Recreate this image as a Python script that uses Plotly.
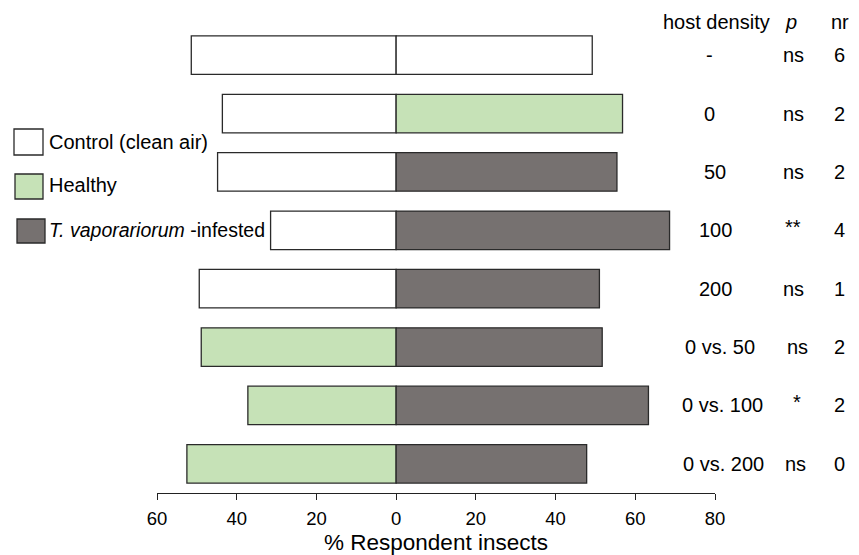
import plotly.graph_objects as go

# ---- data ----
rows = ["-", "0", "50", "100", "200", "0 vs. 50", "0 vs. 100", "0 vs. 200"]
left_values = [51.4, 43.6, 44.8, 31.5, 49.4, 48.9, 37.2, 52.5]
right_values = [49.2, 56.8, 55.4, 68.6, 51.0, 51.7, 63.3, 47.8]
left_group = ["Control", "Control", "Control", "Control", "Control", "Healthy", "Healthy", "Healthy"]
right_group = ["Control", "Healthy", "Infested", "Infested", "Infested", "Infested", "Infested", "Infested"]
p_values = ["ns", "ns", "ns", "**", "ns", "ns", "*", "ns"]
nr_values = ["6", "2", "2", "4", "1", "2", "2", "0"]
tick_vals = [-60, -40, -20, 0, 20, 40, 60, 80]
tick_text = ["60", "40", "20", "0", "20", "40", "60", "80"]

colors = {"Control": "#ffffff", "Healthy": "#c6e2b7", "Infested": "#767170"}
names = {"Control": "Control (clean air)", "Healthy": "Healthy",
         "Infested": "<i>T. vaporariorum</i> -infested"}
EDGE = "#2a2a2a"
FONT = "Liberation Sans, Arial, sans-serif"

# ---- layout geometry (pixels); page body has an 8px default margin ----
OFF = 8
W_FIG, H_FIG = 859 - OFF, 555 - OFF
L, T = 157 - OFF, 26 - OFF
PW, PH = 558, 467
R = W_FIG - L - PW
B = H_FIG - T - PH


def px_x(px):
    return (px - OFF - L) / PW


def px_y(py):
    return (T + PH - (py - OFF)) / PH


ypos = list(range(len(rows)))

fig = go.Figure()
for g in ["Control", "Healthy", "Infested"]:
    xs, ys = [], []
    for i, (v, lg) in enumerate(zip(left_values, left_group)):
        if lg == g:
            xs.append(-v)
            ys.append(ypos[i])
    for i, (v, rg) in enumerate(zip(right_values, right_group)):
        if rg == g:
            xs.append(v)
            ys.append(ypos[i])
    fig.add_trace(go.Bar(
        x=xs, y=ys, orientation="h", name=names[g], width=0.66,
        marker=dict(color=colors[g], line=dict(color=EDGE, width=1.3)),
        showlegend=False,
    ))

fig.update_layout(
    width=W_FIG, height=H_FIG,
    margin=dict(l=L, r=R, t=T, b=B),
    paper_bgcolor="white", plot_bgcolor="white",
    barmode="overlay",
    font=dict(family=FONT, color="black", size=20),
    xaxis=dict(
        range=[-60, 80], tickvals=tick_vals, ticktext=tick_text,
        automargin=False,
        showline=True, linecolor="#222", linewidth=1.3,
        ticks="outside", ticklen=6, tickwidth=1.3, tickcolor="#222",
        ticklabelstandoff=3,
        showgrid=False, zeroline=False,
        tickfont=dict(size=18.5, family=FONT),
        title=dict(text="% Respondent insects", font=dict(size=22.5, family=FONT), standoff=9),
    ),
    yaxis=dict(
        range=[len(rows) - 0.5, -0.5], autorange=False, automargin=False,
        showticklabels=False, showline=False, showgrid=False, zeroline=False, ticks="",
    ),
)

# right-hand table
col1_x = [709, 709, 715, 715, 715, 720, 722, 723]
col2_x = [793, 793, 793, 793, 793, 797, 797, 795]
col3_x = 839
for i, r in enumerate(rows):
    fig.add_annotation(x=px_x(col1_x[i]), y=ypos[i], xref="paper", yref="y", text=r,
                       showarrow=False, xanchor="center", yanchor="middle",
                       font=dict(size=20))
    shift = 3 if "*" in p_values[i] else 0
    fig.add_annotation(x=px_x(col2_x[i]), y=ypos[i], xref="paper", yref="y", text=p_values[i],
                       showarrow=False, xanchor="center", yanchor="middle", yshift=shift,
                       font=dict(size=20))
    fig.add_annotation(x=px_x(col3_x), y=ypos[i], xref="paper", yref="y", text=nr_values[i],
                       showarrow=False, xanchor="center", yanchor="middle",
                       font=dict(size=20))

# header
for txt, px in [("host density", 716), ("<i>p</i>", 791), ("nr", 840)]:
    fig.add_annotation(x=px_x(px), y=px_y(22), xref="paper", yref="paper", text=txt,
                       showarrow=False, xanchor="center", yanchor="middle",
                       font=dict(size=20))

# custom legend
legend_items = [("Control", 14, 43, 129, 155, 142, 20),
                ("Healthy", 15, 43, 174, 199, 185, 20),
                ("Infested", 17, 45, 219, 243, 230, 19.5)]
for g, x0, x1, y0, y1, yc, fs in legend_items:
    fig.add_shape(type="rect", xref="paper", yref="paper",
                  x0=px_x(x0), x1=px_x(x1), y0=px_y(y1), y1=px_y(y0),
                  fillcolor=colors[g], line=dict(color=EDGE, width=1.3))
    fig.add_annotation(x=px_x(47), y=px_y(yc), xref="paper", yref="paper",
                       text=names[g], showarrow=False, xanchor="left", yanchor="middle",
                       font=dict(size=fs))

fig.write_html("out.html")
